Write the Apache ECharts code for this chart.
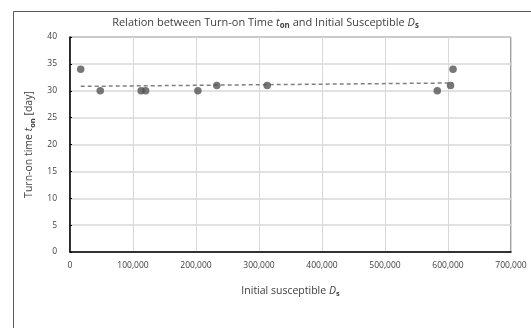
<!DOCTYPE html>
<html><head><meta charset="utf-8">
<script src="https://cdn.jsdelivr.net/npm/echarts@6/dist/echarts.min.js"></script>
<style>html,body{margin:0;padding:0;background:#fff}#c{width:531px;height:328px}</style>
</head><body><div id="c"></div>
<script>
const initialSusceptible = [17000, 48000, 113000, 120000, 203000, 233000, 313000, 583000, 604000, 608000];
const turnOnTime = [34, 30, 30, 30, 30, 31, 31, 30, 31, 34];
const yTicks = [0, 5, 10, 15, 20, 25, 30, 35, 40];
const xTicks = [0, 100000, 200000, 300000, 400000, 500000, 600000, 700000];

const points = initialSusceptible.map((x, i) => [x, turnOnTime[i]]);
// least-squares trendline from the data
const n = points.length;
const mx = initialSusceptible.reduce((a, b) => a + b, 0) / n;
const my = turnOnTime.reduce((a, b) => a + b, 0) / n;
let sxy = 0, sxx = 0;
points.forEach(([x, y]) => { sxy += (x - mx) * (y - my); sxx += (x - mx) * (x - mx); });
const slope = sxy / sxx, icpt = my - slope * mx;
const xmin = Math.min(...initialSusceptible), xmax = Math.max(...initialSusceptible);
const trend = [[xmin, icpt + slope * xmin], [xmax, icpt + slope * xmax]];

const FONT = 'Open Sans';
const chart = echarts.init(document.getElementById('c'));
const rich = (sz) => ({
  n: { fontSize: sz, color: '#404040', fontFamily: FONT, fontWeight: 'normal' },
  i: { fontSize: sz, color: '#404040', fontStyle: 'italic', fontFamily: FONT, fontWeight: 'normal' },
  s: { fontSize: sz * 0.72, color: '#404040', fontWeight: 'bold', fontFamily: FONT, padding: [6, 0, 0, 0] }
});
chart.setOption({
  animation: false,
  textStyle: { fontFamily: FONT },
  graphic: [{
    type: 'rect', left: 11, top: 9, shape: { width: 540, height: 340 },
    style: { fill: 'none', stroke: '#5a5a5a', lineWidth: 1 }, silent: true, z: -1
  }],
  title: {
    text: '{n|Relation between Turn-on Time }{i|t}{s|on}{n| and Initial Susceptible }{i|D}{s|s}',
    left: 'center', top: 11,
    textStyle: { fontWeight: 'normal', rich: rich(11) }
  },
  grid: { left: 70, right: 20, top: 37, bottom: 76, show: true, borderColor: '#404040', borderWidth: 1, backgroundColor: 'transparent' },
  xAxis: {
    type: 'value', min: 0, max: 700000, interval: 100000,
    name: '{n|Initial susceptible }{i|D}{s|s}',
    nameLocation: 'middle', nameGap: 32,
    nameTextStyle: { rich: rich(10.5) },
    axisLine: { lineStyle: { color: '#000', width: 1.5 } },
    axisTick: { show: false },
    axisLabel: { fontSize: 8.5, color: '#404040', margin: 9,
      formatter: v => xTicks.includes(v) ? v.toLocaleString('en-US') : '' },
    splitLine: { lineStyle: { color: '#d9d9d9', width: 1 } }
  },
  yAxis: {
    type: 'value', min: 0, max: 40, interval: 5,
    name: '{n|Turn-on time }{i|t}{s|on}{n| [day]}',
    nameLocation: 'middle', nameGap: 30,
    nameTextStyle: { rich: rich(10.5) },
    axisLine: { lineStyle: { color: '#000', width: 1.5 } },
    axisTick: { show: true, inside: true, length: 2, lineStyle: { color: '#000' } },
    axisLabel: { fontSize: 8.5, color: '#404040', margin: 13,
      formatter: v => yTicks.includes(v) ? String(v) : '' },
    splitLine: { lineStyle: { color: '#d9d9d9', width: 1.5 } }
  },
  series: [
    {
      type: 'line', data: trend, symbol: 'none', silent: true,
      lineStyle: { color: '#808080', width: 1.5, type: [4, 3] }, z: 2
    },
    {
      type: 'scatter', data: points, symbol: 'circle', symbolSize: 7.5,
      itemStyle: { color: '#555555' }, z: 3
    }
  ]
});
</script></body></html>
